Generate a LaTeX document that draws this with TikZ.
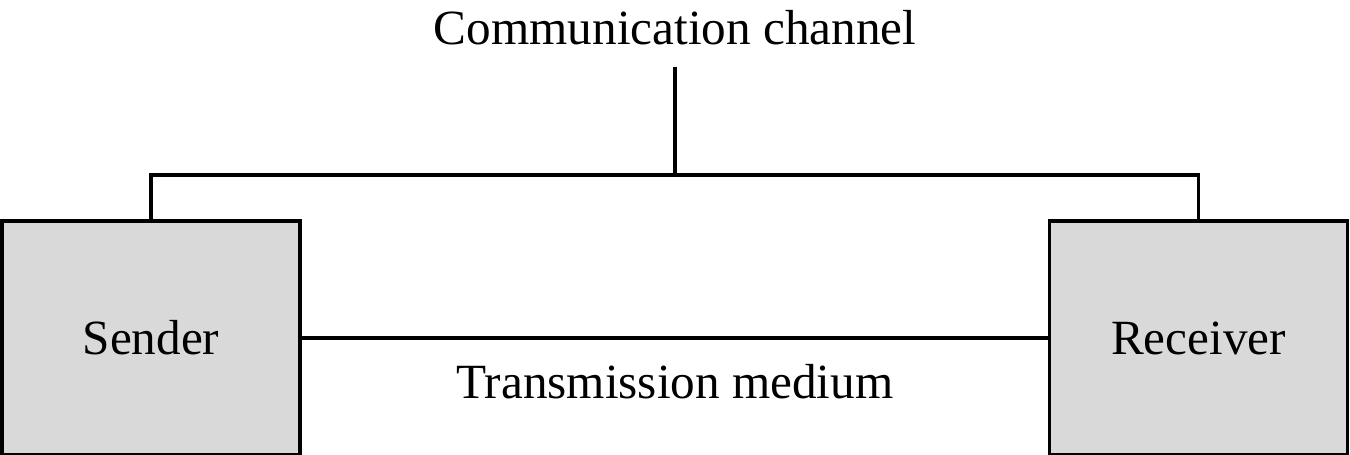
\documentclass[tikz,border=0pt]{standalone}
\usepackage{fontspec}
\setmainfont{Liberation Serif}
\definecolor{boxgray}{HTML}{D9D9D9}
\usetikzlibrary{positioning}

\begin{document}
\begin{tikzpicture}[
  box/.style={draw, fill=boxgray, line width=2pt, minimum width=5.96cm,
    minimum height=4.68cm, font=\fontsize{28}{32}\selectfont},
  lbl/.style={font=\fontsize{28}{32}\selectfont},
  link/.style={line width=2pt}
]
  \useasboundingbox (0,0) rectangle (27,9.1);
  \node[box] (sender) at (3.02,2.34) {Sender};
  \node[box] (receiver) at (23.97,2.34) {Receiver};
  \node[lbl] (channel) at (13.5,8.54) {Communication channel};
  \node[lbl] (medium) at (13.5,1.46) {Transmission medium};

  \coordinate (split) at (13.5,5.6);
  \coordinate (top) at (13.5,7.76);

  \draw[link] (top) -- (split);
  \draw[link] (sender.north) |- (split) -| (receiver.north);
  \draw[link] (sender.east) -- (receiver.west);
\end{tikzpicture}
\end{document}
